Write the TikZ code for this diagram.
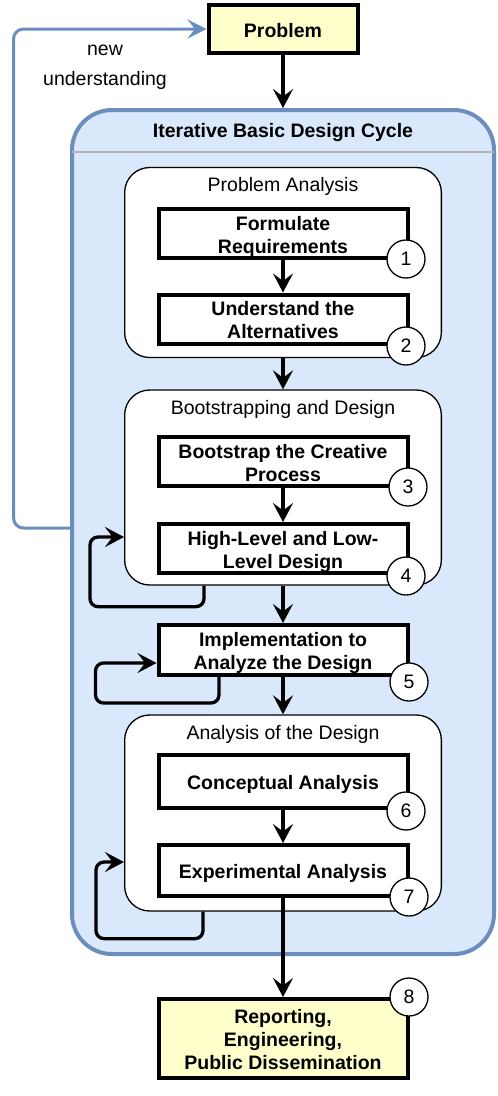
\documentclass[tikz,border=0pt]{standalone}
\usepackage{fontspec}
\setmainfont{Liberation Sans}
\usetikzlibrary{arrows.meta,positioning}
\definecolor{blueline}{HTML}{6C8EBF}
\definecolor{bluefill}{HTML}{DAE8FC}
\definecolor{yellowfill}{HTML}{FFFFCC}
\definecolor{sepgray}{HTML}{B3B3B3}
\newcommand{\bs}{\rule[-4.1pt]{0pt}{24.4pt}}

\begin{document}
\begin{tikzpicture}[x=1pt,y=-1pt,font=\fontsize{19.5}{23}\selectfont,
    task/.style={draw,line width=4pt,fill=white,minimum width=249pt,minimum height=49pt,
      inner ysep=0pt,align=center,font=\fontsize{19.5}{23}\selectfont\bfseries,
      execute at end node=\bs},
    group/.style={draw,line width=1.3pt,fill=white,rounded corners=25pt,minimum width=316.7pt},
    num/.style={draw,circle,line width=1.3pt,fill=white,minimum size=38pt,inner sep=0pt},
    arr/.style={line width=3.3pt,-{Stealth[length=19pt,width=20pt,inset=7.5pt]}},
    selfarr/.style={arr,rounded corners=8pt},
    feedback/.style={line width=3pt,draw=blueline,rounded corners=10pt,
      -{Stealth[length=19pt,width=19pt,inset=7.5pt]}}]
    \useasboundingbox (0,0) rectangle (498,1096);
    % outer cycle
    \node[draw=blueline,fill=bluefill,line width=4pt,rounded corners=40pt,
      minimum width=422pt,minimum height=844pt] (cycle) at (283,532) {};
    \node[anchor=base,font=\fontsize{19.5}{23}\selectfont\bfseries] (cycletitle)
      at ([yshift=-29pt]cycle.north) {Iterative Basic Design Cycle};
    \draw[sepgray,line width=1.5pt] (72,152) -- (494,152);
    \node[task,fill=yellowfill,minimum width=149pt,minimum height=48pt] (prob) at (283,29) {\bs Problem};
    \node[align=center,font=\fontsize{19.5}{30}\selectfont] (newund) at (105,67) {new\\understanding};
    \draw[feedback] ([yshift=4pt]cycle.west) -| ([xshift=-193pt]prob.west) -- (prob.west);
    % groups
    \node[group,minimum height=190pt] (g1) at (283,262.5) {};
    \node[group,minimum height=195pt] (g2) at (283,487.5) {};
    \node[group,minimum height=196pt] (g3) at (283,813) {};
    \node[anchor=base] (g1title) at ([yshift=-25pt]g1.north) {Problem Analysis};
    \node[anchor=base] (g2title) at ([yshift=-25pt]g2.north) {Bootstrapping and Design};
    \node[anchor=base] (g3title) at ([yshift=-25pt]g3.north) {Analysis of the Design};
    % steps
    \node[task] (b1) at (283,233.5) {\bs Formulate\\Requirements};
    \node[task] (b2) at (283,319) {\bs Understand the\\Alternatives};
    \node[task] (b3) at (283,461.5) {\bs Bootstrap the Creative\\Process};
    \node[task] (b4) at (283,548.5) {\bs High-Level and Low-\\Level Design};
    \node[task,minimum height=50pt] (b5) at (283,650) {\bs Implementation to\\Analyze the Design};
    \node[task,minimum height=53pt] (b6) at (283,781.5) {\bs Conceptual Analysis};
    \node[task,minimum height=51pt] (b7) at (283,870.5) {\bs Experimental Analysis};
    \node[task,fill=yellowfill,minimum height=79pt] (b8) at (283,1038.5)
      {\bs Reporting,\\Engineering,\\Public Dissemination};
    % connectors
    \draw[arr] (prob.south) -- (cycle.north);
    \draw[arr] (b1.south) -- (b2.north);
    \draw[arr] (g1.south) -- (g2.north);
    \draw[arr] (b3.south) -- (b4.north);
    \draw[arr] (g2.south) -- (b5.north);
    \draw[arr] (b5.south) -- (g3.north);
    \draw[arr] (b6.south) -- (b7.north);
    \draw[arr] (b7.south) -- (b8.north);
    \draw[selfarr] ([xshift=-79pt]g2.south) -- ++(0,21)
      -| ([xshift=-34pt,yshift=-49.5pt]g2.west) -- ([yshift=-49.5pt]g2.west);
    \draw[selfarr] ([xshift=-64pt]b5.south) -- ++(0,26)
      -| ([xshift=-61pt,yshift=-13pt]b5.west) -- ([yshift=-13pt]b5.west);
    \draw[selfarr] ([xshift=-80pt]g3.south) -- ++(0,27)
      -| ([xshift=-28pt,yshift=-49pt]g3.west) -- ([yshift=-49pt]g3.west);
    % numbers
    \node[num] (n1) at (406,259) {1};
    \node[num] (n2) at (406,346) {2};
    \node[num] (n3) at (408,487) {3};
    \node[num] (n4) at (406,576) {4};
    \node[num] (n5) at (409,682) {5};
    \node[num] (n6) at (406,811) {6};
    \node[num] (n7) at (409,897) {7};
    \node[num] (n8) at (409,997) {8};
  \end{tikzpicture}
\end{document}
